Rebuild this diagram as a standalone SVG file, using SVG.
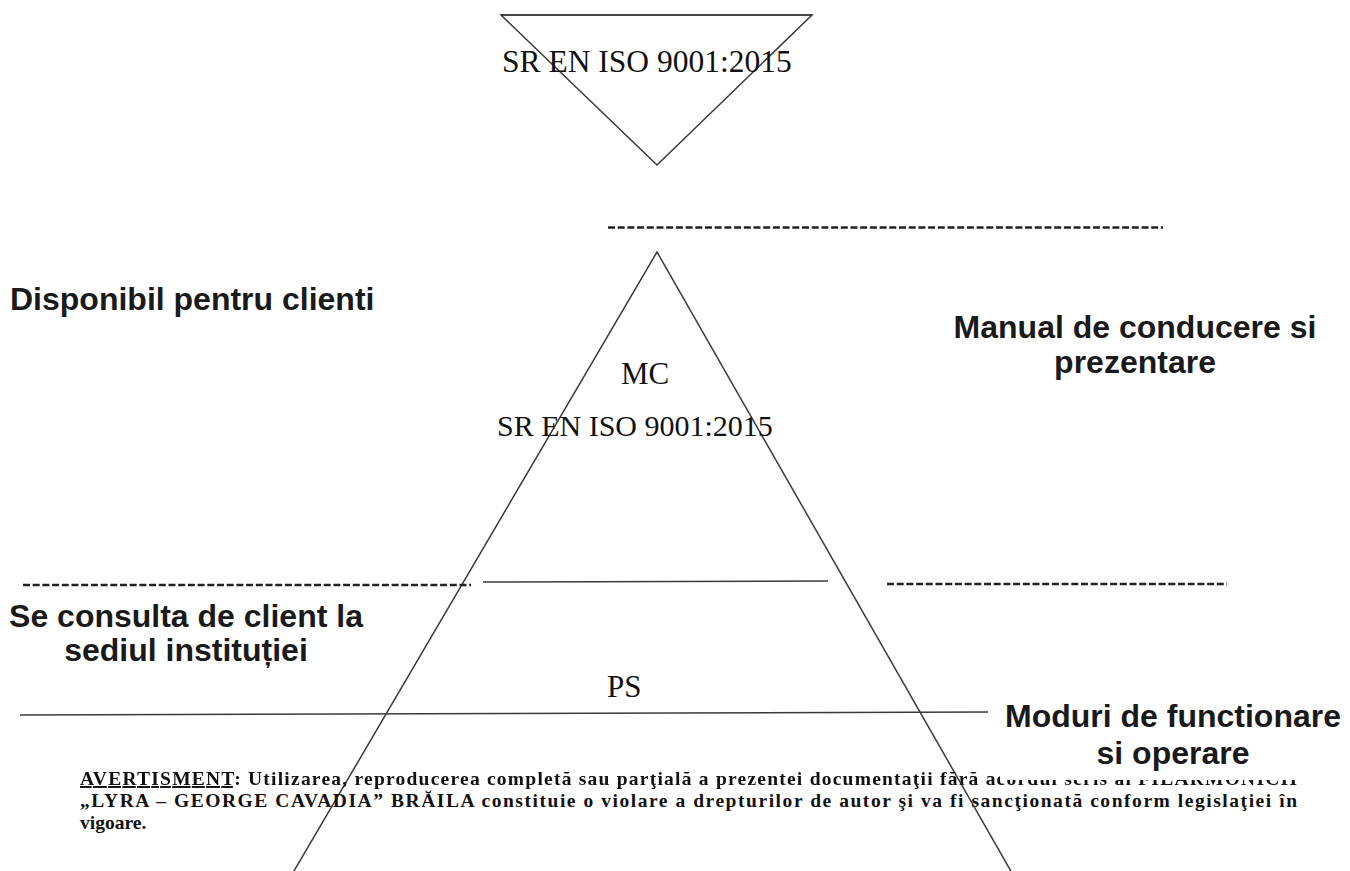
<svg xmlns="http://www.w3.org/2000/svg" width="1350" height="871" viewBox="0 0 1350 871">
<defs>
<style>
.ln{stroke:#3a3a3a;stroke-width:1.5;fill:none}
.dash{stroke:#222;stroke-width:2.5;stroke-dasharray:7 2.7;fill:none}
.serif{font-family:"Liberation Serif","Times New Roman",serif;fill:#111}
.lbl{font-family:"Liberation Sans",Arial,sans-serif;font-weight:bold;font-size:32px;fill:#1a1a1a}
.warn{font-family:"Liberation Serif","Times New Roman",serif;font-weight:bold;font-size:19.5px;fill:#111}
</style>
<mask id="cutmask" maskUnits="userSpaceOnUse" x="0" y="0" width="1350" height="871">
<rect x="0" y="0" width="1350" height="871" fill="#fff"/>
<rect x="1000" y="760" width="320" height="20" fill="#000"/>
</mask>
</defs>
<rect width="1350" height="871" fill="#fff"/>

<g id="top-triangle">
<polygon class="ln" points="501,15 812,15 657,165"/>
<line class="ln" x1="501" y1="15" x2="812" y2="15" stroke-width="2.2"/>
<text class="serif" x="502" y="72" font-size="31.5">SR EN ISO 9001:2015</text>
</g>

<g id="main-triangle">
<polyline class="ln" points="288.7,880 657,252 1016,880"/>
<text class="serif" x="645" y="384" font-size="31" text-anchor="middle">MC</text>
<text class="serif" x="497" y="436" font-size="30">SR EN ISO 9001:2015</text>
<text class="serif" x="607" y="697" font-size="31">PS</text>
</g>

<g id="connectors">
<line class="dash" x1="608" y1="227.5" x2="1163" y2="227.5"/>
<line class="dash" x1="23" y1="585" x2="471" y2="585"/>
<line class="dash" x1="887" y1="584" x2="1227" y2="584"/>
<line class="ln" x1="483" y1="582" x2="828" y2="581"/>
<line class="ln" x1="20" y1="715" x2="988" y2="712"/>
</g>

<g id="label-disponibil">
<text class="lbl" x="10" y="310" font-size="33">Disponibil pentru clienti</text>
</g>
<g id="label-manual">
<text class="lbl" x="1135" y="338" text-anchor="middle">Manual de conducere si</text>
<text class="lbl" x="1135" y="373" text-anchor="middle">prezentare</text>
</g>
<g id="label-consulta">
<text class="lbl" x="186" y="627" text-anchor="middle">Se consulta de client la</text>
<text class="lbl" x="186" y="661" text-anchor="middle">sediul instituției</text>
</g>
<g id="label-moduri">
<text class="lbl" x="1173" y="727" text-anchor="middle">Moduri de functionare</text>
<text class="lbl" x="1173" y="764" text-anchor="middle">si operare</text>
</g>

<g id="warning">
<text class="warn" x="80" y="785" textLength="1217" lengthAdjust="spacing" mask="url(#cutmask)"><tspan text-decoration="underline">AVERTISMENT</tspan>: Utilizarea, reproducerea completă sau parţială a prezentei documentaţii fără acordul scris al FILARMONICII</text>
<text class="warn" x="80" y="807" textLength="1217" lengthAdjust="spacing">„LYRA – GEORGE CAVADIA”  BRĂILA constituie o violare a drepturilor de autor şi va fi sancţionată conform legislaţiei în</text>
<text class="warn" x="80" y="829">vigoare.</text>
</g>
</svg>
